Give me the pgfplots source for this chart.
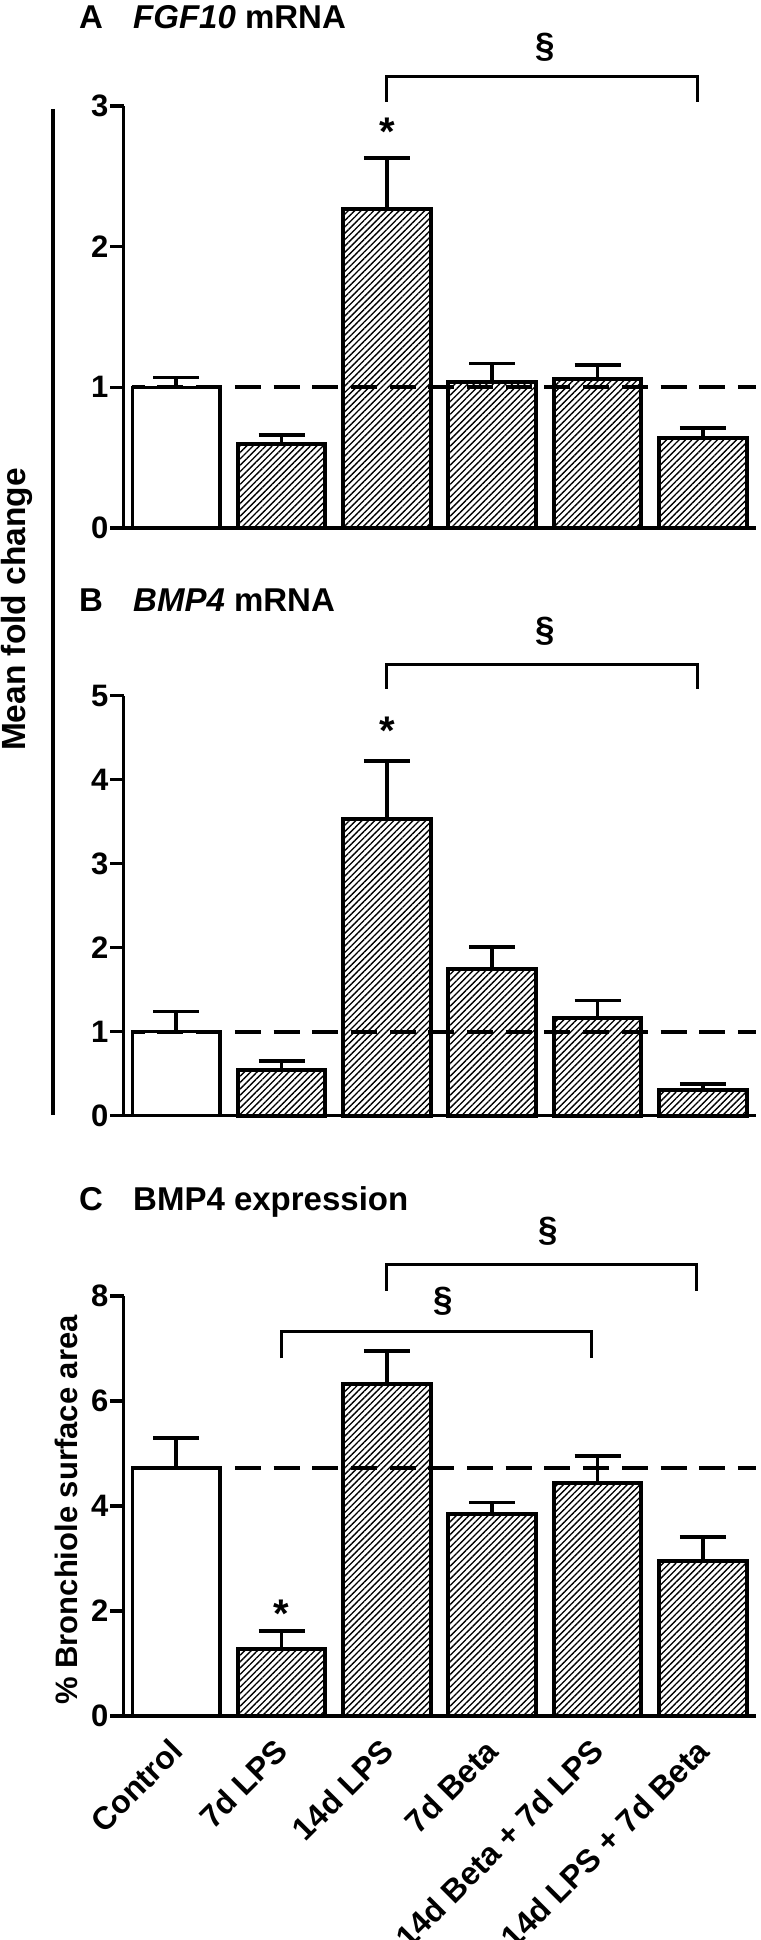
\documentclass[border=0pt]{standalone}
\usepackage{fontspec}
\setmainfont{Liberation Sans}
\setsansfont{Liberation Sans}
\usepackage{pgfplots}
\usepackage{pgfplotstable}
\pgfplotsset{compat=1.18}
\usetikzlibrary{patterns.meta}

% panel A: FGF10 mRNA
\pgfplotstableread{
x y e
0 1.00 0.07
}\ctrlA
\pgfplotstableread{
x y e
1 0.60 0.06
2 2.27 0.36
3 1.04 0.13
4 1.06 0.10
5 0.64 0.07
}\trtA
% panel B: BMP4 mRNA
\pgfplotstableread{
x y e
0 1.00 0.24
}\ctrlB
\pgfplotstableread{
x y e
1 0.54 0.11
2 3.53 0.69
3 1.75 0.26
4 1.16 0.21
5 0.30 0.08
}\trtB
% panel C: BMP4 expression
\pgfplotstableread{
x y e
0 4.72 0.58
}\ctrlC
\pgfplotstableread{
x y e
1 1.28 0.34
2 6.33 0.62
3 3.85 0.22
4 4.43 0.52
5 2.95 0.46
}\trtC

\newcommand{\fs}[1]{\fontsize{#1}{#1}\selectfont}

\pgfplotsset{
  panel/.style={
    scale only axis, width=632pt, height=420pt,
    xmin=-0.5, xmax=5.5, ymin=0,
    axis x line*=bottom, axis y line*=left,
    axis line style={line width=3.5pt, black},
    every tick/.style={line width=3.5pt, black},
    tick align=outside, major tick length=13pt,
    xtick=\empty,
    yticklabel style={font=\bfseries\fs{31}, inner sep=2pt},
    /pgf/number format/assume math mode=true,
    clip=false,
  },
  ctrlbar/.style={ybar, bar width=0.83, bar shift=0pt, fill=white, draw=black, line width=3.5pt,
    error bars/y dir=plus, error bars/y explicit,
    error bars/error bar style={line width=3.5pt, black},
    error bars/error mark options={rotate=90, mark size=23pt, line width=3.5pt, black}},
  trtbar/.style={ybar, bar width=0.83, bar shift=0pt, draw=black, line width=4pt,
    pattern={Lines[angle=45, distance=4.5pt, line width=1.35pt]},
    error bars/y dir=plus, error bars/y explicit,
    error bars/error bar style={line width=3.5pt, black},
    error bars/error mark options={rotate=90, mark size=23pt, line width=3.5pt, black}},
  refline/.style={line width=3.8pt, black, dash pattern=on 26pt off 12.7pt, dash phase=13.2pt, mark=none},
}
\tikzset{
  sect/.style={font=\bfseries\fs{35}},
  star/.style={font=\bfseries\fs{40}, anchor=base, yshift=-23pt, inner sep=0pt},
  bracket/.style={line width=3.2pt},
}

\begin{document}
\begin{tikzpicture}[x=1pt,y=1pt]
\useasboundingbox (0,0) rectangle (760,1940);
\clip (0,0) rectangle (760,1940);

% shared y label for A and B
\draw[line width=4pt] (53.3,1831) -- (53.3,824.5);
\node[rotate=90, anchor=base, inner sep=0pt, font=\bfseries\fs{33.5}] at (25,1330.5) {Mean fold change};
% C y label
\node[rotate=90, anchor=base, inner sep=0pt, font=\bfseries\fs{31}] at (77.5,430) {\% Bronchiole surface area};

% titles
\node[anchor=base west, inner sep=0pt, font=\bfseries\fs{33}] at (79,1911) {A};
\node[anchor=base west, inner sep=0pt, font=\bfseries\fs{33}] at (133,1911) {\textit{FGF10} mRNA};
\node[anchor=base west, inner sep=0pt, font=\bfseries\fs{33}] at (79,1328) {B};
\node[anchor=base west, inner sep=0pt, font=\bfseries\fs{33}] at (133,1328) {\textit{BMP4} mRNA};
\node[anchor=base west, inner sep=0pt, font=\bfseries\fs{33}] at (79,729.6) {C};
\node[anchor=base west, inner sep=0pt, font=\bfseries\fs{33}] at (133,729.6) {BMP4 expression};

% ---------- Panel A ----------
\begin{axis}[panel, at={(123.5pt,1412pt)}, anchor=south west, height=422pt,
  ymax=3, ytick={0,1,2,3}]
\addplot[ctrlbar] table[x=x, y=y, y error=e] {\ctrlA};
\addplot[trtbar] table[x=x, y=y, y error=e] {\trtA};
\addplot[refline] coordinates {(-0.42,1) (5.5,1)};
\draw[bracket] (axis cs:2,3.03) -- (axis cs:2,3.21) -- (axis cs:4.95,3.21) -- (axis cs:4.95,3.03);
\node[sect] at (axis cs:3.5,3.42) {§};
\node[star] at (axis cs:2,2.88) {*};
\end{axis}

% ---------- Panel B ----------
\begin{axis}[panel, at={(123.5pt,824.3pt)}, anchor=south west, height=420pt,
  ymax=5, ytick={0,1,2,3,4,5}]
\addplot[ctrlbar] table[x=x, y=y, y error=e] {\ctrlB};
\addplot[trtbar] table[x=x, y=y, y error=e] {\trtB};
\addplot[refline] coordinates {(-0.42,1) (5.5,1)};
\draw[bracket] (axis cs:2,5.08) -- (axis cs:2,5.37) -- (axis cs:4.95,5.37) -- (axis cs:4.95,5.08);
\node[sect] at (axis cs:3.5,5.77) {§};
\node[star] at (axis cs:2,4.69) {*};
\end{axis}

% ---------- Panel C ----------
\begin{axis}[panel, at={(123.5pt,224pt)}, anchor=south west, height=420pt,
  ymax=8, ytick={0,2,4,6,8},
  xtick={0,1,2,3,4,5},
  xticklabels={Control,7d LPS,14d LPS,7d Beta,14d Beta + 7d LPS,14d LPS + 7d Beta},
  x tick style={draw=none},
  xticklabel style={xshift=-8pt, yshift=-8pt, rotate=45, anchor=north east, font=\bfseries\fs{32}, inner sep=0pt}]
\addplot[ctrlbar] table[x=x, y=y, y error=e] {\ctrlC};
\addplot[trtbar] table[x=x, y=y, y error=e] {\trtC};
\addplot[refline] coordinates {(-0.42,4.72) (5.5,4.72)};
\draw[bracket] (axis cs:2,8.10) -- (axis cs:2,8.60) -- (axis cs:4.94,8.60) -- (axis cs:4.94,8.10);
\node[sect] at (axis cs:3.53,9.23) {§};
\draw[bracket] (axis cs:1,6.81) -- (axis cs:1,7.32) -- (axis cs:3.94,7.32) -- (axis cs:3.94,6.81);
\node[sect] at (axis cs:2.54,7.90) {§};
\node[star] at (axis cs:1,2.13) {*};
\end{axis}
\end{tikzpicture}
\end{document}
